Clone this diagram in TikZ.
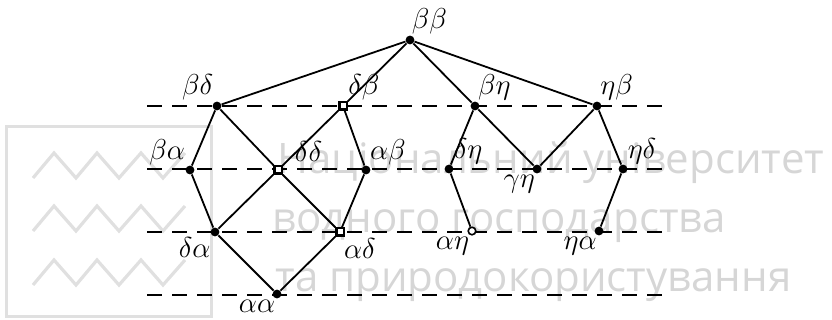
\documentclass[tikz,border=0pt]{standalone}
\usepackage{fontspec}
\newfontfamily\wmfont{Open Sans}

\begin{document}
\begin{tikzpicture}[
    x=0.5pt, y=-0.5pt,
    dot/.style={circle, fill=black, inner sep=0pt, minimum size=4.4pt},
    sqdot/.style={rectangle, draw=black, line width=1.1pt, fill=white, inner sep=0pt, minimum size=3.6pt},
    opendot/.style={circle, draw=black, line width=0.8pt, fill=white, inner sep=0pt, minimum size=3.8pt},
    lbl/.style={font=\Large, inner sep=0.5pt},
    edge/.style={line width=0.9pt},
    level/.style={line width=0.8pt, dash pattern=on 7.5pt off 5pt},
    wmark/.style={text=black!16, font=\wmfont\fontsize{21}{25}\selectfont, anchor=base west, inner sep=0pt},
    logo/.style={draw=black!12, line width=1.6pt}
]
    \useasboundingbox (0,0) rectangle (832,320);

    \draw [logo] (6.5,126.5) rectangle (211.5,316.5);
    \foreach \yb in {178,231,285}
        \draw [logo] (33,\yb) -- (54,\yb-25) -- (76,\yb) -- (97,\yb-25)
            -- (119,\yb) -- (141,\yb-25) -- (163,\yb) -- (185,\yb-25);
    \node [wmark] (wm1) at (277,174) {Національний університет};
    \node [wmark] (wm2) at (272,233) {водного господарства};
    \node [wmark] (wm3) at (275,292) {та природокористування};

    \foreach \yl in {106,169,232,295}
        \draw [level] (147,\yl) -- (664,\yl);

    \node [dot] (bb) at (410,40) [label={[lbl]85:$\beta\beta$}] {};

    \node [dot] (bd) at (217,106) [label={[lbl]120:$\beta\delta$}] {};
    \node [sqdot] (db) at (343,106) [label={[lbl]50:$\delta\beta$}] {};
    \node [dot] (bh) at (475,106) [label={[lbl]70:$\beta\eta$}] {};
    \node [dot] (hb) at (597,106) [label={[lbl]65:$\eta\beta$}] {};

    \node [dot] (ba) at (190,170) [label={[lbl]140:$\beta\alpha$}] {};
    \node [sqdot] (dd) at (278,170) [label={[lbl,label distance=6pt]25:$\delta\delta$}] {};
    \node [dot] (ab) at (366,170) [label={[lbl]55:$\alpha\beta$}] {};
    \node [dot] (dh) at (449,169) [label={[lbl]45:$\delta\eta$}] {};
    \node [dot] (gh) at (537,169) [label={[lbl]-100:$\gamma\eta$}] {};
    \node [dot] (hd) at (623,169) [label={[lbl]45:$\eta\delta$}] {};

    \node [dot] (da) at (215,232) [label={[lbl]-130:$\delta\alpha$}] {};
    \node [sqdot] (ad) at (340,232) [label={[lbl]-60:$\alpha\delta$}] {};
    \node [opendot] (ah) at (472,231) [label={[lbl]-110:$\alpha\eta$}] {};
    \node [dot] (ha) at (599,231) [label={[lbl]-100:$\eta\alpha$}] {};

    \node [dot] (aa) at (277,294) [label={[lbl]-95:$\alpha\alpha$}] {};

    \draw [edge] (bd) -- (bb) -- (hb);
    \draw [edge] (db) -- (bb) -- (bh);

    \draw [edge] (bd) -- (ba) -- (da) -- (aa) -- (ad) -- (ab) -- (db);
    \draw [edge] (bd) -- (dd) -- (ad);
    \draw [edge] (db) -- (dd) -- (da);

    \draw [edge] (bh) -- (dh) -- (ah);
    \draw [edge] (bh) -- (gh) -- (hb);
    \draw [edge] (hb) -- (hd) -- (ha);

\end{tikzpicture}
\end{document}
